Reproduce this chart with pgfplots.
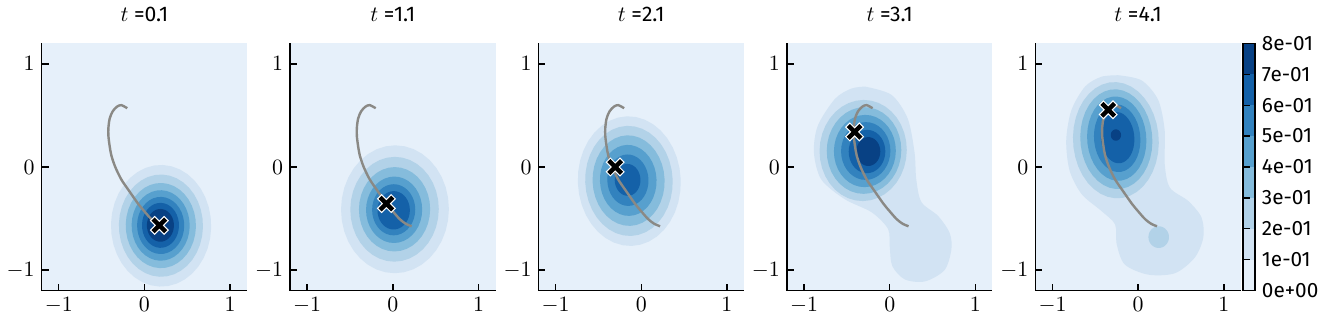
\documentclass[border=0pt]{standalone}
\usepackage[no-math]{fontspec}
\setmainfont{Fira Sans}
\usepackage{pgfplots}
\usepackage{pgfplotstable}
\pgfplotsset{compat=1.18}

\definecolor{c0}{HTML}{E6F0FA}
\definecolor{c1}{HTML}{D2E3F3}
\definecolor{c2}{HTML}{B2D2E8}
\definecolor{c3}{HTML}{85BCDC}
\definecolor{c4}{HTML}{57A0CE}
\definecolor{c5}{HTML}{3282BE}
\definecolor{c6}{HTML}{1461A8}
\definecolor{c7}{HTML}{084184}
\definecolor{curvecol}{HTML}{8A8985}

% unit circle (cos, sin every 10 degrees)
\pgfplotstableread{
c s
1 0
0.9848 0.1736
0.9397 0.3420
0.8660 0.5
0.7660 0.6428
0.6428 0.7660
0.5 0.8660
0.3420 0.9397
0.1736 0.9848
0 1
-0.1736 0.9848
-0.3420 0.9397
-0.5 0.8660
-0.6428 0.7660
-0.7660 0.6428
-0.8660 0.5
-0.9397 0.3420
-0.9848 0.1736
-1 0
-0.9848 -0.1736
-0.9397 -0.3420
-0.8660 -0.5
-0.7660 -0.6428
-0.6428 -0.7660
-0.5 -0.8660
-0.3420 -0.9397
-0.1736 -0.9848
0 -1
0.1736 -0.9848
0.3420 -0.9397
0.5 -0.8660
0.6428 -0.7660
0.7660 -0.6428
0.8660 -0.5
0.9397 -0.3420
0.9848 -0.1736
1 0
}\unitc

% contour level: colour, centre x, centre y, half-width, half-height, tilt
\newcommand{\ellip}[6]{%
  \addplot[draw=none,fill=#1] table[x expr={#2+(#4)*\thisrow{c}*cos(#6)-(#5)*\thisrow{s}*sin(#6)},
    y expr={#3+(#4)*\thisrow{c}*sin(#6)+(#5)*\thisrow{s}*cos(#6)}] {\unitc};}

\newcommand{\traj}{%
  \addplot[curvecol,line width=1.2pt,smooth] coordinates {
  (-0.20,0.57) (-0.27,0.60) (-0.32,0.585) (-0.37,0.54) (-0.405,0.47) (-0.42,0.38)
  (-0.42,0.30) (-0.405,0.20) (-0.385,0.11) (-0.34,0.0) (-0.27,-0.12) (-0.18,-0.23)
  (-0.07,-0.36) (0.0,-0.43) (0.08,-0.505) (0.15,-0.55) (0.22,-0.575)};}

\newcommand{\cross}[2]{%
  \addplot[only marks,mark=x,mark size=3.4pt,mark options={white,line width=3.4pt,line cap=rect}] coordinates {(#1,#2)};
  \addplot[only marks,mark=x,mark size=3.4pt,mark options={black,line width=2.2pt,line cap=rect}] coordinates {(#1,#2)};}

\pgfplotsset{panel/.style={
  scale only axis, width=103pt, height=124pt,
  xmin=-1.2,xmax=1.2,ymin=-1.2,ymax=1.2,
  axis lines*=left, axis line style={line width=0.7pt},
  tick align=inside, major tick length=3.5pt, tick style={black,line width=0.7pt},
  xtick={-1,0,1}, ytick={-1,0,1},
  axis background/.style={fill=c0},
  tick label style={font=\fontsize{10.8}{12}\selectfont},
  title style={font=\fontsize{10.6}{12}\selectfont, yshift=1.5pt},
  axis on top,
}}

\begin{document}
\begin{tikzpicture}
% ---------- t = 0.1
\begin{axis}[panel, at={(0pt,0pt)}, title={$t$ =0.1}]
\ellip{c1}{0.195}{-0.57}{0.585}{0.59}{8}
\ellip{c2}{0.193}{-0.569}{0.491}{0.496}{8}
\ellip{c3}{0.192}{-0.568}{0.41}{0.413}{8}
\ellip{c4}{0.19}{-0.567}{0.339}{0.342}{8}
\ellip{c5}{0.19}{-0.567}{0.275}{0.277}{8}
\ellip{c6}{0.188}{-0.566}{0.216}{0.218}{8}
\ellip{c7}{0.187}{-0.566}{0.158}{0.159}{8}
\addplot[curvecol,line width=1.2pt,smooth] coordinates {
  (-0.20,0.57) (-0.27,0.60) (-0.32,0.585) (-0.37,0.54) (-0.405,0.47) (-0.42,0.38)
  (-0.42,0.30) (-0.405,0.20) (-0.385,0.11) (-0.34,0.0) (-0.27,-0.12) (-0.18,-0.23)
  (-0.07,-0.36) (0.0,-0.43) (0.08,-0.505) (0.175,-0.566)};
\cross{0.175}{-0.566}
\end{axis}
% ---------- t = 1.1
\begin{axis}[panel, at={(124.5pt,0pt)}, title={$t$ =1.1}]
\ellip{c1}{0.025}{-0.41}{0.63}{0.62}{10}
\ellip{c2}{0.02}{-0.41}{0.517}{0.508}{10}
\ellip{c3}{0.02}{-0.41}{0.416}{0.409}{10}
\ellip{c4}{0.015}{-0.415}{0.328}{0.322}{10}
\ellip{c5}{0.01}{-0.415}{0.252}{0.248}{10}
\ellip{c6}{0.01}{-0.42}{0.189}{0.186}{10}
\traj
\cross{-0.075}{-0.355}
\end{axis}
% ---------- t = 2.1
\begin{axis}[panel, at={(249pt,0pt)}, title={$t$ =2.1}]
\ellip{c1}{-0.14}{-0.137}{0.60}{0.63}{12}
\ellip{c2}{-0.144}{-0.135}{0.51}{0.535}{12}
\ellip{c3}{-0.148}{-0.132}{0.42}{0.44}{12}
\ellip{c4}{-0.152}{-0.13}{0.33}{0.345}{12}
\ellip{c5}{-0.156}{-0.128}{0.24}{0.25}{12}
\ellip{c6}{-0.16}{-0.125}{0.15}{0.155}{12}
\traj
\cross{-0.305}{0.0}
\end{axis}
% ---------- t = 3.1
\begin{axis}[panel, at={(373.5pt,0pt)}, title={$t$ =3.1}]
\addplot[draw=none,fill=c1,smooth] coordinates {
 (-0.29,0.78) (0.02,0.70) (0.21,0.47) (0.29,0.14) (0.31,-0.12) (0.37,-0.34)
 (0.565,-0.475) (0.70,-0.64) (0.72,-0.80) (0.64,-1.0) (0.41,-1.11) (0.175,-1.09)
 (0.03,-0.96) (0.0,-0.77) (-0.02,-0.60) (-0.21,-0.44) (-0.53,-0.31) (-0.80,-0.12)
 (-0.885,0.14) (-0.84,0.40) (-0.64,0.66) (-0.45,0.76) (-0.29,0.78)};
\ellip{c2}{-0.31}{0.16}{0.51}{0.49}{10}
\ellip{c3}{-0.30}{0.16}{0.436}{0.42}{10}
\ellip{c4}{-0.29}{0.155}{0.362}{0.35}{10}
\ellip{c5}{-0.28}{0.155}{0.288}{0.28}{10}
\ellip{c6}{-0.265}{0.15}{0.214}{0.21}{10}
\ellip{c7}{-0.25}{0.15}{0.14}{0.14}{10}
\traj
\cross{-0.41}{0.34}
\end{axis}
% ---------- t = 4.1
\begin{axis}[panel, at={(498pt,0pt)}, title={$t$ =4.1}]
\addplot[draw=none,fill=c1,smooth] coordinates {
 (-0.234,0.89) (0.04,0.84) (0.234,0.65) (0.31,0.354) (0.31,0.03) (0.37,-0.20)
 (0.585,-0.33) (0.74,-0.49) (0.76,-0.686) (0.66,-0.88) (0.43,-1.03) (0.117,-1.044)
 (-0.156,-0.946) (-0.25,-0.75) (-0.27,-0.556) (-0.43,-0.426) (-0.66,-0.263)
 (-0.80,-0.036) (-0.84,0.257) (-0.78,0.55) (-0.62,0.78) (-0.43,0.875) (-0.234,0.89)};
\ellip{c2}{0.24}{-0.68}{0.12}{0.105}{0}
\ellip{c2}{-0.26}{0.26}{0.50}{0.565}{8}
\ellip{c3}{-0.255}{0.27}{0.42}{0.485}{8}
\ellip{c4}{-0.25}{0.275}{0.345}{0.41}{8}
\ellip{c5}{-0.245}{0.28}{0.27}{0.33}{8}
\ellip{c6}{-0.24}{0.285}{0.195}{0.25}{8}
\ellip{c7}{-0.26}{0.31}{0.06}{0.055}{0}
\traj
\cross{-0.35}{0.555}
\end{axis}
% ---------- colour bar
\begin{axis}[at={(602pt,0pt)}, scale only axis, width=6pt, height=124pt,
  xmin=0,xmax=1,ymin=0,ymax=0.8, xtick=\empty,
  ytick={0,0.1,0.2,0.3,0.4,0.5,0.6,0.7,0.8},
  yticklabels={0e+00,1e-01,2e-01,3e-01,4e-01,5e-01,6e-01,7e-01,8e-01},
  yticklabel pos=right, major tick length=0pt,
  axis line style={line width=0.7pt}, axis on top,
  tick label style={font=\fontsize{10.4}{12}\selectfont}]
\addplot[draw=none,fill=c0] coordinates {(0,0) (1,0) (1,0.1) (0,0.1)} -- cycle;
\addplot[draw=none,fill=c1] coordinates {(0,0.1) (1,0.1) (1,0.2) (0,0.2)} -- cycle;
\addplot[draw=none,fill=c2] coordinates {(0,0.2) (1,0.2) (1,0.3) (0,0.3)} -- cycle;
\addplot[draw=none,fill=c3] coordinates {(0,0.3) (1,0.3) (1,0.4) (0,0.4)} -- cycle;
\addplot[draw=none,fill=c4] coordinates {(0,0.4) (1,0.4) (1,0.5) (0,0.5)} -- cycle;
\addplot[draw=none,fill=c5] coordinates {(0,0.5) (1,0.5) (1,0.6) (0,0.6)} -- cycle;
\addplot[draw=none,fill=c6] coordinates {(0,0.6) (1,0.6) (1,0.7) (0,0.7)} -- cycle;
\addplot[draw=none,fill=c7] coordinates {(0,0.7) (1,0.7) (1,0.8) (0,0.8)} -- cycle;
\addplot[black,line width=0.6pt] coordinates {(0,0.1) (0.6,0.1)};
\addplot[black,line width=0.6pt] coordinates {(0,0.2) (0.6,0.2)};
\addplot[black,line width=0.6pt] coordinates {(0,0.3) (0.6,0.3)};
\addplot[black,line width=0.6pt] coordinates {(0,0.4) (0.6,0.4)};
\addplot[black,line width=0.6pt] coordinates {(0,0.5) (0.6,0.5)};
\addplot[black,line width=0.6pt] coordinates {(0,0.6) (0.6,0.6)};
\addplot[black,line width=0.6pt] coordinates {(0,0.7) (0.6,0.7)};
\end{axis}
\end{tikzpicture}
\end{document}
